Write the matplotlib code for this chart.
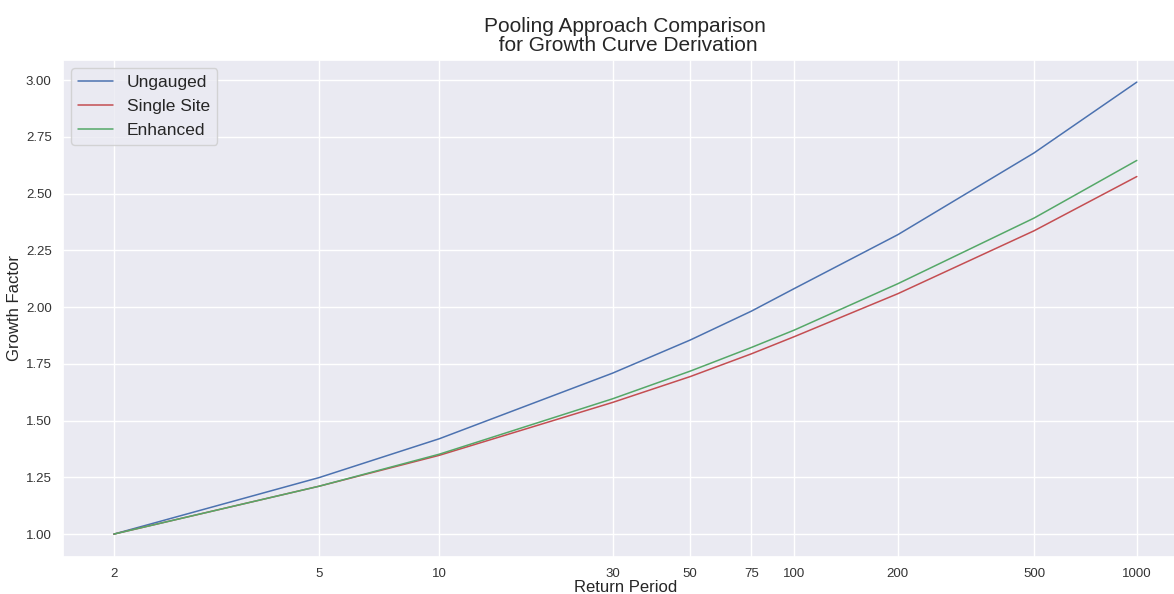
import numpy as np
import matplotlib
matplotlib.use("Agg")
import matplotlib.pyplot as plt
import seaborn as sns

# return periods (years) and growth factors
return_period = [2, 5, 10, 30, 50, 75, 100, 200, 500, 1000]
ungauged = [1.00, 1.249, 1.420, 1.709, 1.855, 1.982, 2.082, 2.319, 2.679, 2.991]
single_site = [1.00, 1.211, 1.347, 1.580, 1.694, 1.794, 1.870, 2.059, 2.336, 2.575]
enhanced = [1.00, 1.211, 1.352, 1.596, 1.718, 1.822, 1.899, 2.103, 2.392, 2.646]
tick_labels = ["2", "5", "10", "30", "50", "75", "100", "200", "500", "1000"]

sns.set_theme(style="darkgrid", color_codes=True)
plt.rcParams['font.family'] = ['Liberation Sans', 'DejaVu Sans']

# logistic reduced variate for the x axis
xv = np.log(np.array(return_period) - 1)

fig = plt.figure(figsize=(11.74, 5.94), dpi=100)
ax = fig.add_axes([0.0534, 0.0628, 0.9585, 0.837])

ax.plot(xv, ungauged, 'b', lw=1.1, label="Ungauged")
ax.plot(xv, single_site, 'r', lw=1.1, label="Single Site")
ax.plot(xv, enhanced, 'g', lw=1.1, label="Enhanced")

ax.set_xticks(xv)
ax.set_xticklabels(tick_labels)
ax.tick_params(axis='both', labelsize=9.5, colors='#333333')
ax.tick_params(axis='x', pad=2)
ax.tick_params(axis='y', pad=2)
ax.set_xlabel("Return Period", fontsize=12, labelpad=0)
ax.set_ylabel("Growth Factor", fontsize=12, labelpad=3)
ax.set_title("Pooling Approach Comparison\n for Growth Curve Derivation", fontsize=15, linespacing=1.0, pad=6)
ax.legend(loc="upper left", fontsize=12.5)

fig.savefig("out.png", dpi=100)
